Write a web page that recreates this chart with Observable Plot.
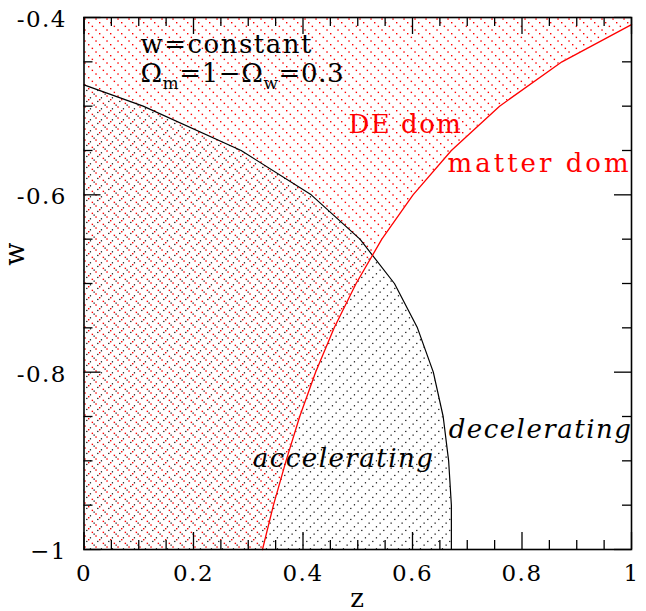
<!DOCTYPE html>
<html><head><meta charset="utf-8">
<script src="https://cdn.jsdelivr.net/npm/d3@7"></script>
<script src="https://cdn.jsdelivr.net/npm/@observablehq/plot@0.6"></script>
<style>html,body{margin:0;padding:0;background:#fff;overflow:hidden}svg{display:block}</style>
</head><body><div id="chart"></div>
<script>
// acceleration/deceleration boundary (q = 0)
const accelW = [-1, -0.95, -0.9, -0.85, -0.8, -0.75, -0.7, -0.65, -0.6, -0.55, -0.5, -0.476];
const accelZ = [0.671, 0.671, 0.666, 0.656, 0.638, 0.609, 0.567, 0.504, 0.415, 0.287, 0.108, 0];
// matter / dark-energy equality curve
const equalW = [-1, -0.95, -0.9, -0.85, -0.8, -0.75, -0.7, -0.65, -0.6, -0.55, -0.5, -0.45, -0.408];
const equalZ = [0.326, 0.346, 0.369, 0.394, 0.423, 0.457, 0.497, 0.544, 0.601, 0.671, 0.759, 0.873, 1];
// DE-dominated region closes along the top edge
const deTopW = [-0.4];
const deTopZ = [1];

const xMajor = [0, 0.2, 0.4, 0.6, 0.8, 1];
const xLabels = ["0", "0.2", "0.4", "0.6", "0.8", "1"];
const xMinor = [0.05, 0.1, 0.15, 0.25, 0.3, 0.35, 0.45, 0.5, 0.55, 0.65, 0.7, 0.75, 0.85, 0.9, 0.95];
const yMajor = [-1, -0.8, -0.6, -0.4];
const yLabels = ["−1", "-0.8", "-0.6", "-0.4"];
const yMinor = [-0.95, -0.9, -0.85, -0.75, -0.7, -0.65, -0.55, -0.5, -0.45];

const annoText = ["w=constant", "Ωm=1−Ωw=0.3", "DE dom", "matter dom", "accelerating", "decelerating"];
const annoZ = [0.103, 0.103, 0.483, 0.664, 0.308, 0.666];
const annoW = [-0.4406, -0.4733, -0.5308, -0.5748, -0.9072, -0.8748];
const annoKind = ["plain", "plain", "red", "red", "italic", "italic"];

const xTitle = "z";
const yTitle = "w";

// tables built from the arrays
const accel = accelW.map((w, i) => ({w, z: accelZ[i]}));
const equal = equalW.map((w, i) => ({w, z: equalZ[i]}));
const deRegion = equal.concat(deTopW.map((w, i) => ({w, z: deTopZ[i]})));
const anno = annoText.map((t, i) => ({t, z: annoZ[i], w: annoW[i], kind: annoKind[i]}));

const W = 646, H = 611, mL = 83.5, mR = 15, mT = 17, mB = 62;
const innerW = W - mL - mR, innerH = H - mT - mB;
const majLen = 17, minLen = 9;
const font = "'DejaVu Serif', serif";

const svg = Plot.plot({
  width: W, height: H,
  marginLeft: mL, marginRight: mR, marginTop: mT, marginBottom: mB,
  style: {fontFamily: font, background: "#fff", color: "#000", letterSpacing: "1.5px"},
  x: {domain: [0, 1], axis: null},
  y: {domain: [-1, -0.4], axis: null},
  marks: [
    Plot.areaX(deRegion, {y: "w", x1: 0, x2: "z", fill: "url(#hatchRed)"}),
    Plot.areaX(accel, {y: "w", x1: 0, x2: "z", fill: "url(#hatchBlack)"}),
    Plot.line(accel, {x: "z", y: "w", stroke: "#000", strokeWidth: 1.2}),
    Plot.line(equal, {x: "z", y: "w", stroke: "#f00", strokeWidth: 1.3}),
    // inward ticks on all four sides
    Plot.tickX(xMajor, {x: d => d, insetTop: innerH - majLen, stroke: "#000", strokeWidth: 1.3}),
    Plot.tickX(xMinor, {x: d => d, insetTop: innerH - minLen, stroke: "#000", strokeWidth: 1.3}),
    Plot.tickX(xMajor, {x: d => d, insetBottom: innerH - majLen, stroke: "#000", strokeWidth: 1.3}),
    Plot.tickX(xMinor, {x: d => d, insetBottom: innerH - minLen, stroke: "#000", strokeWidth: 1.3}),
    Plot.tickY(yMajor, {y: d => d, insetRight: innerW - majLen, stroke: "#000", strokeWidth: 1.3}),
    Plot.tickY(yMinor, {y: d => d, insetRight: innerW - minLen, stroke: "#000", strokeWidth: 1.3}),
    Plot.tickY(yMajor, {y: d => d, insetLeft: innerW - majLen, stroke: "#000", strokeWidth: 1.3}),
    Plot.tickY(yMinor, {y: d => d, insetLeft: innerW - minLen, stroke: "#000", strokeWidth: 1.3}),
    Plot.frame({stroke: "#000", strokeWidth: 1.6}),
    // tick labels
    Plot.axisX({ticks: xMajor, tickSize: 0, tickPadding: 15, tickFormat: d => xLabels[xMajor.indexOf(d)], fontSize: 23, label: null}),
    Plot.axisY({ticks: yMajor, tickSize: 0, tickPadding: 17, tickFormat: d => yLabels[yMajor.indexOf(d)], fontSize: 23, label: null, dy: 2}),
    // axis titles
    Plot.text([xTitle], {x: 0.5, frameAnchor: "bottom", dy: 57, text: d => d, fontSize: 26, lineAnchor: "bottom"}),
    Plot.text([yTitle], {y: -0.68, frameAnchor: "left", dx: -69, text: d => d, fontSize: 27, rotate: -90, lineAnchor: "middle"}),
    // annotations
    Plot.text(anno.filter(d => d.kind === "plain"), {x: "z", y: "w", text: "t", fontSize: 26, textAnchor: "start", lineAnchor: "bottom", fill: "#000"}),
    Plot.text(anno.filter(d => d.kind === "red"), {x: "z", y: "w", text: "t", fontSize: 26, textAnchor: "start", lineAnchor: "bottom", fill: "#f00"}),
    Plot.text(anno.filter(d => d.kind === "italic"), {x: "z", y: "w", text: "t", fontSize: 26, textAnchor: "start", lineAnchor: "bottom", fill: "#000", fontStyle: "italic"})
  ]
});

// hatch patterns: sparse dotted diagonal lines
const defs = d3.select(svg).insert("defs", ":first-child");
const pr = defs.append("pattern").attr("id", "hatchRed").attr("patternUnits", "userSpaceOnUse").attr("width", 11).attr("height", 11);
[[0, 0], [3.67, 3.67], [7.33, 7.33]].forEach(([x, y]) => pr.append("rect").attr("x", x).attr("y", y).attr("width", 1.4).attr("height", 1.4).attr("fill", "#f00"));
const pb = defs.append("pattern").attr("id", "hatchBlack").attr("patternUnits", "userSpaceOnUse").attr("width", 11).attr("height", 11);
[[1.83, 9.17], [5.5, 5.5], [9.17, 1.83]].forEach(([x, y]) => pb.append("rect").attr("x", x).attr("y", y).attr("width", 1.25).attr("height", 1.25).attr("fill", "#111"));

const texts = d3.select(svg).selectAll("text");
// subscripts in the Omega label
texts.filter(function() { return this.textContent === annoText[1]; }).each(function() {
  const t = d3.select(this).style("letter-spacing", "0.6px");
  t.text(null);
  t.append("tspan").text("Ω");
  t.append("tspan").attr("font-size", 17).attr("dy", 7).text("m");
  t.append("tspan").attr("dy", -7).text("=1−Ω");
  t.append("tspan").attr("font-size", 17).attr("dy", 7).text("w");
  t.append("tspan").attr("dy", -7).text("=0.3");
});
texts.filter(function() { return this.textContent === annoText[3]; }).style("letter-spacing", "3px");

document.getElementById("chart").append(svg);
</script>
</body></html>
